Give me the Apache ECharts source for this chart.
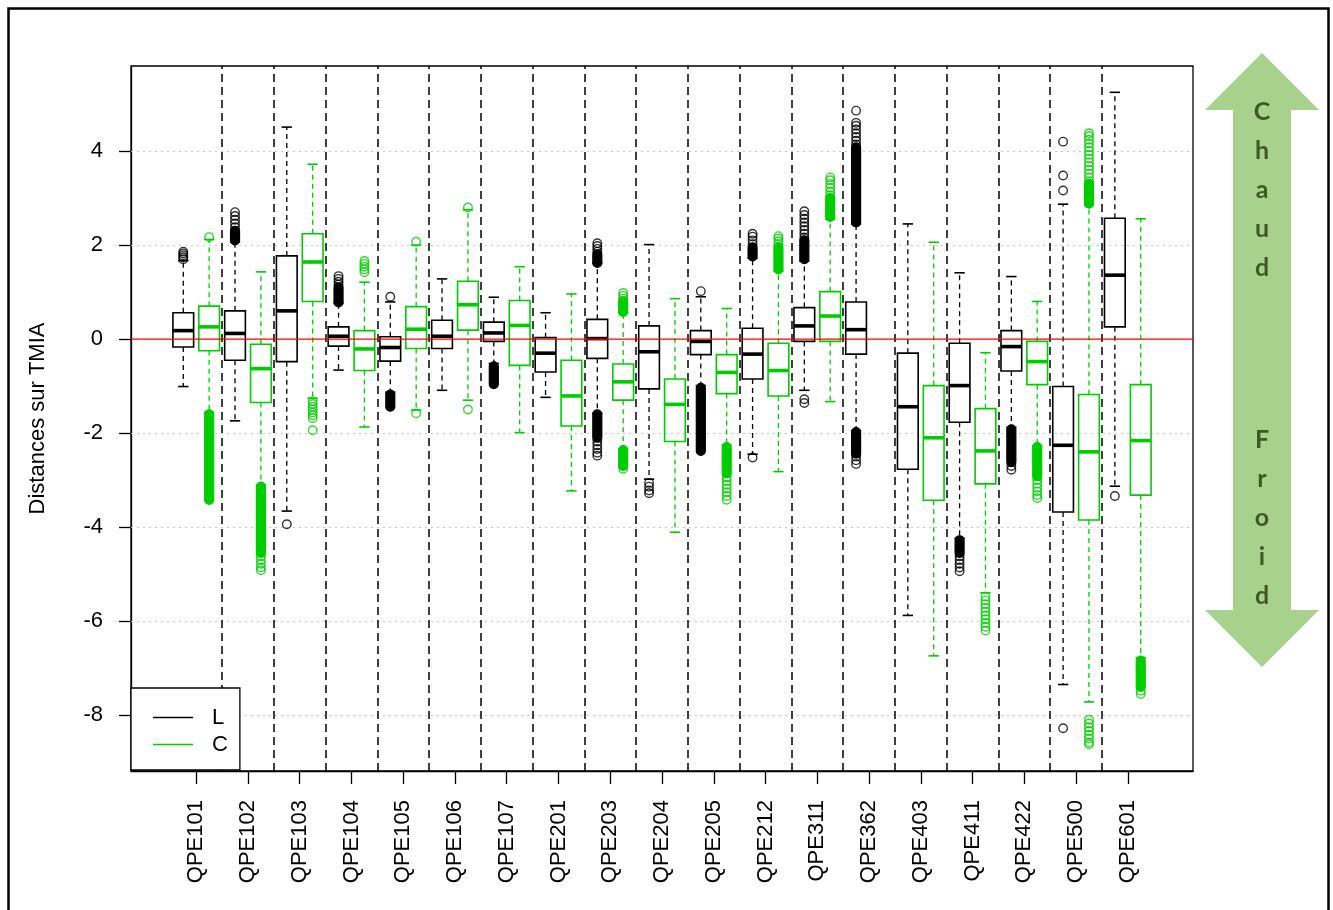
<!DOCTYPE html>
<html>
<head>
<meta charset="utf-8">
<title>Distances sur TMIA</title>
<script src="https://cdn.jsdelivr.net/npm/echarts@6/dist/echarts.min.js"></script>
<style>
  html, body { margin: 0; padding: 0; background: #fff; }
  #chart { width: 1333px; height: 910px; }
</style>
</head>
<body>
<div id="chart"></div>
<script>
// Stations
const cats = ['QPE101','QPE102','QPE103','QPE104','QPE105','QPE106','QPE107','QPE201','QPE203','QPE204',
              'QPE205','QPE212','QPE311','QPE362','QPE403','QPE411','QPE422','QPE500','QPE601'];

// Five-number summaries [lower whisker, Q1, median, Q3, upper whisker]
const statsL = [
  [-1.01, -0.17,  0.18,  0.56, 1.67],
  [-1.74, -0.45,  0.12,  0.60, 2.07],
  [-3.66, -0.48,  0.60,  1.77, 4.51],
  [-0.66, -0.15,  0.06,  0.26, 0.77],
  [-1.13, -0.47, -0.18,  0.05, 0.79],
  [-1.09, -0.20,  0.06,  0.40, 1.28],
  [-0.52, -0.05,  0.13,  0.36, 0.89],
  [-1.24, -0.70, -0.30,  0.03, 0.56],
  [-1.58, -0.41,  0.01,  0.42, 1.61],
  [-2.98, -1.06, -0.27,  0.28, 2.01],
  [-0.99, -0.33, -0.05,  0.18, 0.90],
  [-2.45, -0.85, -0.32,  0.23, 1.72],
  [-1.09, -0.05,  0.28,  0.67, 1.66],
  [-1.95, -0.32,  0.20,  0.79, 2.45],
  [-5.88, -2.77, -1.44, -0.30, 2.45],
  [-4.24, -1.77, -0.99, -0.09, 1.41],
  [-1.88, -0.68, -0.16,  0.18, 1.33],
  [-7.35, -3.68, -2.26, -1.01, 2.87],
  [-3.13,  0.26,  1.36,  2.57, 5.25]
];
const statsC = [
  [-1.55, -0.25,  0.26,  0.70, 2.12],
  [-3.10, -1.35, -0.63, -0.11, 1.43],
  [-1.26,  0.80,  1.64,  2.24, 3.72],
  [-1.87, -0.67, -0.21,  0.18, 1.21],
  [-1.51, -0.20,  0.21,  0.69, 2.00],
  [-1.30,  0.19,  0.73,  1.23, 2.75],
  [-1.99, -0.56,  0.29,  0.82, 1.54],
  [-3.23, -1.85, -1.21, -0.45, 0.96],
  [-2.33, -1.30, -0.91, -0.53, 0.56],
  [-4.11, -2.18, -1.39, -0.85, 0.86],
  [-2.26, -1.16, -0.71, -0.33, 0.65],
  [-2.82, -1.21, -0.67, -0.09, 1.45],
  [-1.33, -0.05,  0.49,  1.01, 2.55],
  null,
  [-6.74, -3.43, -2.10, -0.99, 2.06],
  [-5.40, -3.08, -2.38, -1.48, -0.29],
  [-2.27, -0.97, -0.48, -0.05, 0.80],
  [-7.72, -3.85, -2.40, -1.18, 2.85],
  [-6.78, -3.32, -2.16, -0.97, 2.56]
];

// Individual outliers
const pointsL = [
  [1.70, 1.74, 1.78, 1.82, 1.86],
  [2.38, 2.46, 2.54, 2.62, 2.70],
  [-3.94],
  [1.16, 1.22, 1.28, 1.34],
  [0.90],
  [],
  [],
  [],
  [1.86, 1.92, 1.98, 2.04, -2.18, -2.26, -2.34, -2.42, -2.48],
  [-3.06, -3.14, -3.22, -3.28],
  [1.02],
  [2.02, 2.10, 2.18, 2.24, -2.52],
  [2.16, 2.24, 2.32, 2.40, 2.48, 2.56, 2.64, 2.72, -1.28, -1.36],
  [4.14, 4.22, 4.30, 4.38, 4.46, 4.54, 4.60, 4.86, -2.50, -2.58, -2.66],
  [],
  [-4.62, -4.70, -4.78, -4.86, -4.94],
  [-2.70, -2.78],
  [4.20, 3.48, 3.16, -8.28],
  [-3.34]
];
const pointsC = [
  [2.17],
  [-4.62, -4.70, -4.78, -4.86, -4.92],
  [-1.32, -1.38, -1.44, -1.50, -1.56, -1.62, -1.68, -1.94],
  [1.42, 1.48, 1.54, 1.60, 1.66],
  [2.07, -1.58],
  [2.80, -1.50],
  [],
  [],
  [0.86, 0.92, 0.98, -2.76],
  [],
  [-2.94, -3.02, -3.10, -3.18, -3.26, -3.34, -3.42],
  [2.02, 2.08, 2.14, 2.19],
  [3.06, 3.14, 3.22, 3.30, 3.38, 3.44],
  [],
  [],
  [-5.48, -5.56, -5.64, -5.72, -5.80, -5.88, -5.96, -6.04, -6.12, -6.20],
  [-3.00, -3.08, -3.16, -3.24, -3.32, -3.38],
  [3.36, 3.44, 3.52, 3.60, 3.68, 3.76, 3.84, 3.92, 4.00, 4.08, 4.16, 4.24, 4.32, 4.38,
   -8.10, -8.18, -8.26, -8.34, -8.42, -8.50, -8.58, -8.62],
  [-7.48, -7.55]
];

// Dense runs of overlapping outliers [from, to]
const runsL = [
  [], [[2.10, 2.30]], [], [[0.78, 1.10]], [[-1.18, -1.44]], [], [[-0.58, -0.96]], [],
  [[1.62, 1.80], [-1.60, -2.10]], [], [[-1.04, -2.38]], [[1.76, 1.95]], [[1.70, 2.10]],
  [[2.48, 4.08], [-1.98, -2.44]], [], [[-4.28, -4.55]], [[-1.92, -2.62]], [], []
];
const runsC = [
  [[-1.60, -3.42]], [[-3.14, -4.55]], [], [], [], [], [], [],
  [[0.58, 0.80], [-2.36, -2.70]], [], [[-2.30, -2.86]], [[1.48, 1.95]], [[2.60, 3.00]],
  [], [], [], [[-2.30, -2.92]], [[2.88, 3.30]], [[-6.84, -7.40]]
];

const yTicks = [4, 2, 0, -2, -4, -6, -8];
const yGrid = [4, 2, -2, -4, -6, -8];
const refLevel = [0];

const BLACK = '#000000';
const GREEN = '#00CD00';
const SHIFT = 0.25;   // offset of each group from the station position
const BOX_W = 0.4;    // box width in axis units
const FONT = '"Liberation Sans", Arial, sans-serif';

const catPos = cats.map((c, i) => i + 1);
const separators = cats.slice(1).map((c, i) => i + 1.5);

function boxData(stats, dx) {
  const out = [];
  stats.forEach((s, i) => { if (s) out.push([i + 1 + dx].concat(s)); });
  return out;
}
function pointData(points, dx) {
  const out = [];
  points.forEach((arr, i) => arr.forEach(v => out.push([i + 1 + dx, v])));
  return out;
}
function runData(runs, dx) {
  const out = [];
  runs.forEach((arr, i) => arr.forEach(r => out.push([i + 1 + dx, r[0], r[1]])));
  return out;
}

function makeBoxRenderer(color) {
  return function (params, api) {
    const x = api.value(0);
    const pLo = api.coord([x, api.value(1)]);
    const pQ1 = api.coord([x, api.value(2)]);
    const pMed = api.coord([x, api.value(3)]);
    const pQ3 = api.coord([x, api.value(4)]);
    const pHi = api.coord([x, api.value(5)]);
    const half = api.size([BOX_W, 0])[0] / 2;
    const cx = pMed[0];
    const dashed = { stroke: color, lineWidth: 1.3, lineDash: [5, 4] };
    const solid = { stroke: color, lineWidth: 1.6 };
    return {
      type: 'group',
      children: [
        { type: 'line', shape: { x1: cx, y1: pQ3[1], x2: cx, y2: pHi[1] }, style: dashed },
        { type: 'line', shape: { x1: cx, y1: pQ1[1], x2: cx, y2: pLo[1] }, style: dashed },
        { type: 'line', shape: { x1: cx - half / 2, y1: pHi[1], x2: cx + half / 2, y2: pHi[1] }, style: solid },
        { type: 'line', shape: { x1: cx - half / 2, y1: pLo[1], x2: cx + half / 2, y2: pLo[1] }, style: solid },
        { type: 'rect', shape: { x: cx - half, y: pQ3[1], width: 2 * half, height: pQ1[1] - pQ3[1] },
          style: { fill: 'none', stroke: color, lineWidth: 1.6 } },
        { type: 'line', shape: { x1: cx - half, y1: pMed[1], x2: cx + half, y2: pMed[1] },
          style: { stroke: color, lineWidth: 3.6 } }
      ]
    };
  };
}

function makeRunRenderer(color) {
  return function (params, api) {
    const x = api.value(0);
    const a = api.coord([x, api.value(1)]);
    const b = api.coord([x, api.value(2)]);
    const r = 4.5;
    const top = Math.min(a[1], b[1]) - r;
    const bot = Math.max(a[1], b[1]) + r;
    return {
      type: 'rect',
      shape: { x: a[0] - r, y: top, width: 2 * r, height: bot - top, r: r },
      style: { fill: color, stroke: color, lineWidth: 1.2 }
    };
  };
}

// Horizontal reference line drawn across the whole plot
function makeRefRenderer(params, api) {
  const left = api.coord([-0.26, api.value(0)]);
  const right = api.coord([20.26, api.value(0)]);
  return {
    type: 'line',
    shape: { x1: left[0], y1: left[1], x2: right[0], y2: right[1] },
    style: { stroke: '#ff0000', lineWidth: 1.3 }
  };
}

const chart = echarts.init(document.getElementById('chart'), null, { renderer: 'canvas' });

const arrowFont = 'bold 25px Lato, "Open Sans", sans-serif';

const option = {
  animation: false,
  backgroundColor: '#ffffff',
  grid: {
    left: 131, top: 66, width: 1062, height: 705,
    show: true, borderColor: '#000', borderWidth: 1.3, backgroundColor: 'transparent'
  },
  xAxis: {
    type: 'value', min: -0.26, max: 20.26,
    splitLine: { show: false },
    axisLine: { show: true, onZero: false, lineStyle: { color: '#000', width: 1.3 } },
    axisTick: { show: true, customValues: catPos, length: 13, lineStyle: { color: '#000', width: 1.3 } },
    axisLabel: {
      customValues: catPos, rotate: 90, margin: 29,
      fontSize: 22, color: '#000', fontFamily: FONT,
      formatter: v => cats[Math.round(v) - 1]
    }
  },
  yAxis: {
    type: 'value', min: -9.19, max: 5.81,
    name: 'Distances sur TMIA', nameLocation: 'middle', nameGap: 82, nameRotate: 90,
    nameTextStyle: { fontSize: 22, color: '#000', fontFamily: FONT },
    splitLine: { show: false },
    axisLine: { show: true, onZero: false, lineStyle: { color: '#000', width: 1.3 } },
    axisTick: { show: true, customValues: yTicks, length: 12, lineStyle: { color: '#000', width: 1.3 } },
    axisLabel: { customValues: yTicks, margin: 28, fontSize: 22, color: '#000', fontFamily: FONT }
  },
  legend: {
    data: ['L', 'C'],
    orient: 'vertical',
    left: 131, top: 688,
    padding: [16, 12, 12, 22],
    itemGap: 0,
    itemWidth: 40, itemHeight: 1.5,
    icon: 'rect',
    backgroundColor: '#fff',
    borderColor: '#000', borderWidth: 1.3,
    textStyle: { fontSize: 22, color: '#000', fontFamily: FONT, lineHeight: 27, padding: [0, 0, 0, 14] },
    selectedMode: false
  },
  series: [
    {
      name: 'L', type: 'custom', z: 3,
      itemStyle: { color: BLACK },
      renderItem: makeBoxRenderer(BLACK),
      encode: { x: 0, y: [1, 2, 3, 4, 5] },
      data: boxData(statsL, -SHIFT),
      markLine: {
        silent: true, symbol: ['none', 'none'], label: { show: false }, z: 1,
        data: yGrid.map(v => ({ yAxis: v, lineStyle: { color: '#c8c8c8', type: [2, 4], width: 1.2 } }))
          .concat(separators.map(v => ({ xAxis: v, lineStyle: { color: '#000', type: [8, 5], width: 1.5 } })))
      }
    },
    {
      name: 'C', type: 'custom', z: 3,
      itemStyle: { color: GREEN },
      renderItem: makeBoxRenderer(GREEN),
      encode: { x: 0, y: [1, 2, 3, 4, 5] },
      data: boxData(statsC, SHIFT)
    },
    {
      name: 'L-runs', type: 'custom', z: 4,
      renderItem: makeRunRenderer(BLACK),
      encode: { x: 0, y: [1, 2] },
      data: runData(runsL, -SHIFT)
    },
    {
      name: 'C-runs', type: 'custom', z: 4,
      renderItem: makeRunRenderer(GREEN),
      encode: { x: 0, y: [1, 2] },
      data: runData(runsC, SHIFT)
    },
    {
      name: 'L-out', type: 'scatter', z: 5,
      symbol: 'circle', symbolSize: 8.5,
      itemStyle: { color: 'rgba(0,0,0,0)', borderColor: BLACK, borderWidth: 1.4 },
      data: pointData(pointsL, -SHIFT)
    },
    {
      name: 'C-out', type: 'scatter', z: 5,
      symbol: 'circle', symbolSize: 8.5,
      itemStyle: { color: 'rgba(0,0,0,0)', borderColor: GREEN, borderWidth: 1.4 },
      data: pointData(pointsC, SHIFT)
    },
    {
      name: 'zero', type: 'custom', z: 6, silent: true,
      renderItem: makeRefRenderer,
      encode: { y: 0 },
      data: refLevel.map(v => [v])
    }
  ],
  graphic: [
    // page frame
    { type: 'rect', left: 6, top: 6, shape: { width: 1320, height: 1000 },
      style: { fill: 'none', stroke: '#000', lineWidth: 2.5 }, z: 100 },
    // double arrow
    { type: 'polygon', z: 50,
      shape: { points: [[1262, 53], [1319, 110], [1291, 110], [1291, 610], [1319, 610], [1262, 667],
                        [1205, 610], [1233, 610], [1233, 110], [1205, 110]] },
      style: { fill: '#a9d18e' } }
  ].concat(['C', 'h', 'a', 'u', 'd'].map((ch, i) => ({
      type: 'text', z: 51, x: 1262, y: 112 + i * 39,
      style: { text: ch, fill: '#3d5a24', font: arrowFont, align: 'center', verticalAlign: 'middle' }
    }))).concat(['F', 'r', 'o', 'i', 'd'].map((ch, i) => ({
      type: 'text', z: 51, x: 1262, y: 440 + i * 39,
      style: { text: ch, fill: '#3d5a24', font: arrowFont, align: 'center', verticalAlign: 'middle' }
    })))
};

chart.setOption(option);
</script>
</body>
</html>
